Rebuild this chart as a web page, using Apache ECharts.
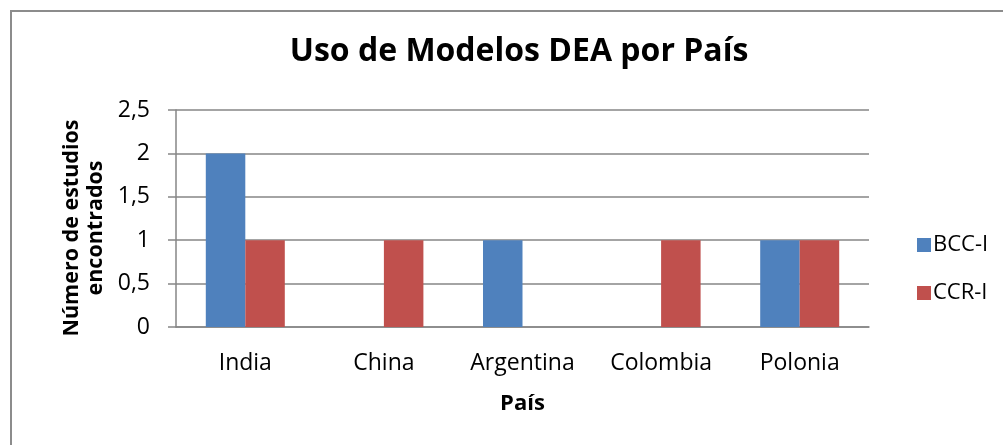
<!DOCTYPE html>
<html>
<head>
<meta charset="utf-8">
<script src="https://cdn.jsdelivr.net/npm/echarts@6/dist/echarts.min.js"></script>
<style>
html,body{margin:0;padding:0;background:#fff;}
#c{width:1003px;height:445px;}
</style>
</head>
<body>
<div id="c"></div>
<script>
const categories = ['India', 'China', 'Argentina', 'Colombia', 'Polonia'];
const bccI = [2, 0, 1, 0, 1];
const ccrI = [1, 1, 0, 1, 1];
const seriesNames = ['BCC-I', 'CCR-I'];
const yTicks = [0, 0.5, 1, 1.5, 2, 2.5];

const FONT = 'Open Sans';
const chart = echarts.init(document.getElementById('c'), null, {renderer: 'canvas'});
chart.setOption({
  animation: false,
  backgroundColor: '#fff',
  title: {
    text: 'Uso de Modelos DEA por País',
    left: 514, top: 31,
    textAlign: 'center',
    textStyle: {fontFamily: FONT, fontWeight: 'bold', fontSize: 32, color: '#000'}
  },
  graphic: [
    {type: 'rect', shape: {x: 11, y: 11, width: 1020, height: 460},
     style: {fill: 'none', stroke: '#8c8c8c', lineWidth: 2}, z: 0, silent: true},
    {type: 'text', x: 84, y: 228, rotation: Math.PI / 2,
     style: {text: 'Número de estudios\nencontrados', fontFamily: FONT, fontWeight: 'bold', fontSize: 21.5,
       lineHeight: 24, fill: '#000', align: 'center', verticalAlign: 'middle'}}
  ],
  legend: {
    orient: 'vertical',
    left: 912, top: 228,
    itemWidth: 14, itemHeight: 14, itemGap: 24,
    icon: 'rect',
    textStyle: {fontFamily: FONT, fontSize: 22, color: '#000', lineHeight: 24, padding: [0, 0, 0, -3]},
    data: seriesNames
  },
  grid: {left: 176, right: 134, top: 110, bottom: 118, containLabel: false},
  xAxis: {
    type: 'category',
    data: categories,
    name: 'País',
    nameLocation: 'middle',
    nameGap: 66,
    nameTextStyle: {fontFamily: FONT, fontWeight: 'bold', fontSize: 22, color: '#000'},
    axisLine: {lineStyle: {color: '#868686', width: 1.5}},
    axisTick: {show: false},
    axisLabel: {fontFamily: FONT, fontSize: 23, color: '#000', margin: 25}
  },
  yAxis: {
    type: 'value',
    min: 0, max: 2.5, interval: 0.5,
    axisLine: {show: true, lineStyle: {color: '#868686', width: 1.5}},
    axisTick: {show: true, length: 8, lineStyle: {color: '#868686', width: 1.5}},
    splitLine: {lineStyle: {color: '#868686', width: 1.5}},
    axisLabel: {fontFamily: FONT, fontSize: 23, color: '#000', margin: 26,
      formatter: v => String(v).replace('.', ',')}
  },
  series: [
    {name: seriesNames[0], type: 'bar', data: bccI, itemStyle: {color: '#4F81BD'},
     barGap: '0%', barCategoryGap: '43%'},
    {name: seriesNames[1], type: 'bar', data: ccrI, itemStyle: {color: '#C0504D'},
     barGap: '0%', barCategoryGap: '43%'}
  ]
});
</script>
</body>
</html>
